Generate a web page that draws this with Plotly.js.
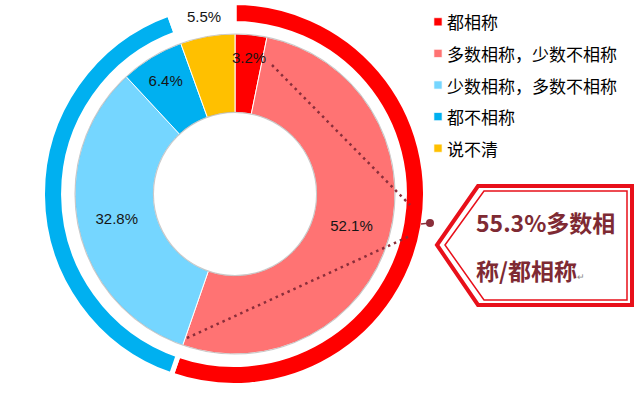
<!DOCTYPE html>
<html><head><meta charset="utf-8">
<script src="https://cdn.plot.ly/plotly-3.0.1.min.js"></script>
<style>
html,body{margin:0;padding:0;background:#fff;}
#chart{width:640px;height:394px;}
.legendpie{transform: translate(31px,1px) scale(0.68);}
.legendtext{font-size:17px !important;}
</style></head><body><div id="chart"></div>
<script>
// ---- data ----
const categories = ['都相称','多数相称，少数不相称','少数相称，多数不相称','都不相称','说不清'];
const shares = [3.2, 52.1, 32.8, 6.4, 5.5];
const sliceColors = ['#FF0000','#FF7373','#75D6FF','#00B0F0','#FFC000'];
const groupNames = ['多数相称/都相称','少数相称/都不相称','说不清'];
const groupShares = [55.3, 39.2, 5.5];
const groupColors = ['#FF0000','#00B0F0','rgba(0,0,0,0)'];
const calloutLine1 = '55.3%多数相';
const calloutLine2 = '称/都相称';

// ---- layout helpers ----
const W = 640, H = 394;
const px = x => x / W;
const py = y => 1 - y / H;
function domainFor(cx, cy, r) {
  return {x: [px(cx - r), px(cx + r)], y: [py(cy + r), py(cy - r)]};
}
const inner = {cx: 235, cy: 194, r: 160};
const outer = {cx: 234, cy: 194, r: 191.5};

const labelText = shares.map(v => v.toFixed(1) + '%');
const textPos = shares.map((v, i) => (i === 0 || i === shares.length - 1) ? 'none' : 'inside');
const labelFont = {family: 'Liberation Sans, Arial, sans-serif', size: 15, color: '#151515'};

const traces = [
  {
    type: 'pie', values: groupShares, labels: groupNames, sort: false, direction: 'clockwise', rotation: 0,
    hole: 0.89, domain: domainFor(outer.cx, outer.cy, outer.r),
    marker: {colors: groupColors, line: {color: '#ffffff', width: 5}},
    textinfo: 'none', hoverinfo: 'skip', showlegend: false
  },
  {
    type: 'pie', values: shares, labels: categories, sort: false, direction: 'clockwise', rotation: 0,
    hole: 0.51, domain: domainFor(inner.cx, inner.cy, inner.r),
    marker: {colors: sliceColors, line: {color: '#ffffff', width: 1}},
    text: labelText, textinfo: 'text', textposition: textPos,
    textfont: labelFont, insidetextfont: labelFont, outsidetextfont: labelFont,
    insidetextorientation: 'horizontal',
    hoverinfo: 'label+percent'
  },
  {
    type: 'pie', values: [1], labels: ['edge'], hole: 0.51, domain: domainFor(inner.cx, inner.cy, inner.r),
    marker: {colors: ['rgba(0,0,0,0)'], line: {color: 'rgba(160,160,160,0.55)', width: 1.2}},
    textinfo: 'none', hoverinfo: 'skip', showlegend: false
  }
];

// labels for the narrow first slice and the last slice, placed along their mid angles
const total = shares.reduce((a, b) => a + b, 0);
function midPoint(i, r) {
  let start = 0;
  for (let k = 0; k < i; k++) start += shares[k];
  const a = (start + shares[i] / 2) / total * 2 * Math.PI;
  return {x: inner.cx + r * Math.sin(a), y: inner.cy - r * Math.cos(a)};
}
const firstLab = midPoint(0, 137);
const lastLab = midPoint(shares.length - 1, 180);

const dark = '#8A2E3A';
function pathOf(pts) {
  return 'M' + pts.map(p => px(p[0]) + ',' + py(p[1])).join('L') + 'Z';
}

const layout = {
  width: W, height: H,
  margin: {l: 0, r: 0, t: 0, b: 0},
  paper_bgcolor: '#ffffff',
  showlegend: true,
  legend: {
    x: px(407), xanchor: 'left', y: 1, yanchor: 'top',
    font: {family: 'Noto Sans CJK SC, sans-serif', size: 22, color: '#000'},
    bgcolor: 'rgba(0,0,0,0)', borderwidth: 0, traceorder: 'normal'
  },
  shapes: [
    {type: 'line', xref: 'paper', yref: 'paper', x0: px(272), y0: py(65), x1: px(410), y1: py(205),
     line: {color: dark, width: 2.5, dash: '2.5px,4px'}},
    {type: 'line', xref: 'paper', yref: 'paper', x0: px(187), y0: py(338), x1: px(410), y1: py(236),
     line: {color: dark, width: 2.5, dash: '2.5px,4px'}},
    {type: 'line', xref: 'paper', yref: 'paper', x0: px(421), y0: py(224), x1: px(430), y1: py(223),
     line: {color: dark, width: 1.5}},
    {type: 'circle', xref: 'paper', yref: 'paper', x0: px(426), y0: py(227), x1: px(434), y1: py(219),
     fillcolor: dark, line: {color: dark, width: 0}},
    {type: 'path', xref: 'paper', yref: 'paper',
     path: pathOf([[437,245],[478,186],[632,186],[632,305],[478,305]]),
     line: {color: '#E8101A', width: 4}, fillcolor: 'rgba(255,255,255,1)'},
    {type: 'path', xref: 'paper', yref: 'paper',
     path: pathOf([[445,245],[484,191],[627,191],[627,300],[484,300]]),
     line: {color: '#E8101A', width: 1.5}, fillcolor: 'rgba(0,0,0,0)'}
  ],
  annotations: [
    {xref: 'paper', yref: 'paper', x: px(firstLab.x), y: py(firstLab.y), text: labelText[0],
     showarrow: false, xanchor: 'center', yanchor: 'middle', font: labelFont},
    {xref: 'paper', yref: 'paper', x: px(lastLab.x), y: py(lastLab.y), text: labelText[shares.length - 1],
     showarrow: false, xanchor: 'center', yanchor: 'middle', font: labelFont},
    {xref: 'paper', yref: 'paper', x: px(474), y: py(222), text: '<b>' + calloutLine1 + '</b>',
     showarrow: false, xanchor: 'left', yanchor: 'middle',
     font: {family: 'Noto Sans CJK SC, sans-serif', size: 23, color: '#7E2A33'}},
    {xref: 'paper', yref: 'paper', x: px(474), y: py(270),
     text: '<b>' + calloutLine2 + '</b><span style="font-size:9px;color:#888">↵</span>',
     showarrow: false, xanchor: 'left', yanchor: 'middle',
     font: {family: 'Noto Sans CJK SC, sans-serif', size: 23, color: '#7E2A33'}}
  ]
};

Plotly.newPlot('chart', traces, layout, {displayModeBar: false, staticPlot: true});
</script></body></html>
